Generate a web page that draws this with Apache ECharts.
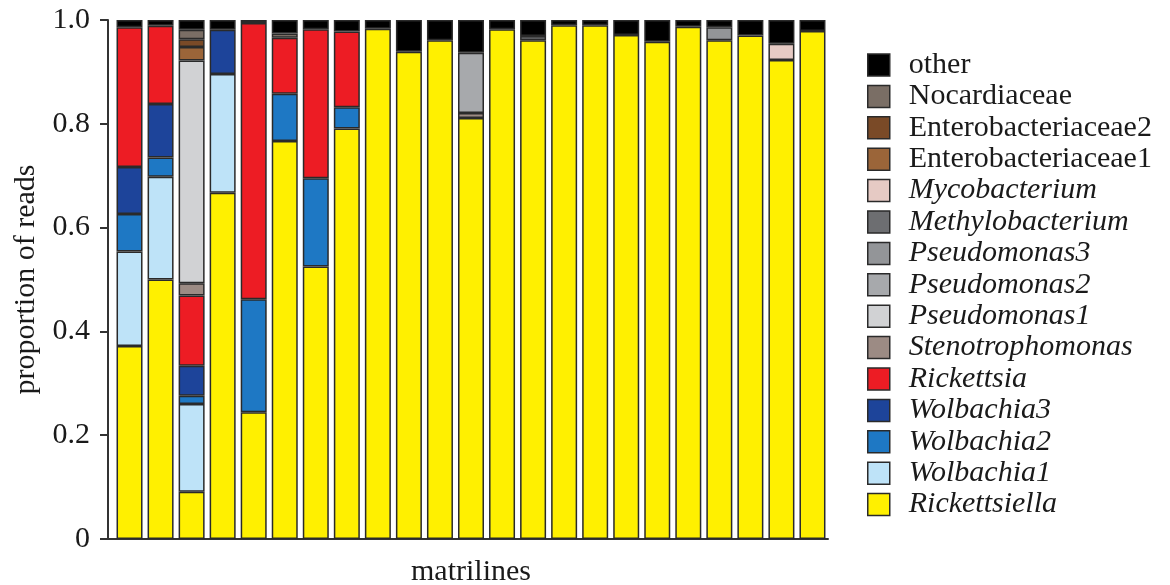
<!DOCTYPE html>
<html>
<head>
<meta charset="utf-8">
<script src="https://cdn.jsdelivr.net/npm/echarts@6/dist/echarts.min.js"></script>
<style>html,body{margin:0;padding:0;background:#fff;}#c{width:1170px;height:585px;}</style>
</head>
<body>
<div id="c"></div>
<script>
// 23 matrilines (bars), values = proportion of reads
const matrilines = ['1','2','3','4','5','6','7','8','9','10','11','12','13','14','15','16','17','18','19','20','21','22','23'];
const yTicks = [0, 0.2, 0.4, 0.6, 0.8, 1.0];

const Rickettsiella      = [0.372,0.500,0.091,0.667,0.244,0.767,0.525,0.791,0.983,0.939,0.961,0.811,0.982,0.961,0.990,0.990,0.971,0.958,0.987,0.961,0.970,0.923,0.979];
const Wolbachia1         = [0.182,0.198,0.169,0.229,'-','-','-','-','-','-','-','-','-','-','-','-','-','-','-','-','-','-','-'];
const Wolbachia2         = [0.072,0.037,0.016,'-',0.218,0.091,0.170,0.041,'-','-','-','-','-','-','-','-','-','-','-','-','-','-','-'];
const Wolbachia3         = [0.091,0.103,0.058,0.085,'-','-','-','-','-','-','-','-','-','-','-','-','-','-','-','-','-','-','-'];
const Rickettsia         = [0.269,0.151,0.135,'-',0.532,0.108,0.287,0.146,'-','-','-','-','-','-','-','-','-','-','-','-','-','-','-'];
const Stenotrophomonas   = ['-','-',0.024,'-','-','-','-','-','-','-','-',0.010,'-','-','-','-','-','-','-','-','-','-','-'];
const Pseudomonas1       = ['-','-',0.429,'-','-','-','-','-','-','-','-','-','-','-','-','-','-','-','-','-','-','-','-'];
const Pseudomonas2       = ['-','-','-','-','-','-','-','-','-','-','-',0.116,'-','-','-','-','-','-','-','-','-','-','-'];
const Pseudomonas3       = ['-','-','-','-','-','-','-','-','-','-','-','-','-','-','-','-','-','-','-',0.025,'-','-','-'];
const Methylobacterium   = ['-','-','-','-','-','-','-','-','-','-','-','-','-',0.008,'-','-','-','-','-','-','-','-','-'];
const Mycobacterium      = ['-','-','-','-','-','-','-','-','-','-','-','-','-','-','-','-','-','-','-','-','-',0.031,'-'];
const Enterobacteriaceae1= ['-','-',0.026,'-','-','-','-','-','-','-','-','-','-','-','-','-','-','-','-','-','-','-','-'];
const Enterobacteriaceae2= ['-','-',0.015,'-','-','-','-','-','-','-','-','-','-','-','-','-','-','-','-','-','-','-','-'];
const Nocardiaceae       = ['-','-',0.018,'-','-',0.008,'-','-','-','-','-','-','-','-','-','-','-','-','-','-','-','-','-'];
const other              = [0.014,0.011,0.019,0.019,0.006,0.026,0.018,0.022,0.017,0.061,0.039,0.063,0.018,0.031,0.010,0.010,0.029,0.042,0.013,0.014,0.030,0.046,0.021];

// stacking order bottom -> top
const seriesDefs = [
  ['Rickettsiella', Rickettsiella, '#FFF000', true],
  ['Wolbachia1', Wolbachia1, '#BEE3F8', true],
  ['Wolbachia2', Wolbachia2, '#1E78C4', true],
  ['Wolbachia3', Wolbachia3, '#1D449A', true],
  ['Rickettsia', Rickettsia, '#ED1C24', true],
  ['Stenotrophomonas', Stenotrophomonas, '#9C8B84', true],
  ['Pseudomonas1', Pseudomonas1, '#D1D2D4', true],
  ['Pseudomonas2', Pseudomonas2, '#A7A9AC', true],
  ['Pseudomonas3', Pseudomonas3, '#939598', true],
  ['Methylobacterium', Methylobacterium, '#6D6E71', true],
  ['Mycobacterium', Mycobacterium, '#E6CAC4', true],
  ['Enterobacteriaceae1', Enterobacteriaceae1, '#9B6539', false],
  ['Enterobacteriaceae2', Enterobacteriaceae2, '#7A4A27', false],
  ['Nocardiaceae', Nocardiaceae, '#7A6E65', false],
  ['other', other, '#000000', false]
];

const italic = {};
seriesDefs.forEach(d => { italic[d[0]] = d[3]; });
const FONT = 'Liberation Serif';
const FS = 30;
const TXT = '#1a1a1a';

const series = seriesDefs.map(d => ({
  name: d[0],
  type: 'bar',
  stack: 'reads',
  xAxisIndex: 1,
  yAxisIndex: 1,
  barWidth: 26,
  data: d[1],
  itemStyle: { color: d[2], borderColor: '#2a2a2a', borderWidth: 1.5 },
  emphasis: { disabled: true },
  animation: false
}));

const chart = echarts.init(document.getElementById('c'), null, { renderer: 'canvas' });
chart.setOption({
  animation: false,
  backgroundColor: '#ffffff',
  grid: [
    { left: 108, right: 342, top: 20, bottom: 46, containLabel: false, outerBoundsMode: 'none' },
    { left: 114, right: 342, top: 20, bottom: 46, containLabel: false, outerBoundsMode: 'none' }
  ],
  xAxis: [
    {
      gridIndex: 0,
      type: 'value',
      min: 0, max: 1,
      axisLine: { show: true, onZero: false, lineStyle: { color: '#333', width: 2 } },
      axisTick: { show: false },
      axisLabel: { show: false },
      splitLine: { show: false }
    },
    {
      gridIndex: 1,
      type: 'category',
      data: matrilines,
      boundaryGap: true,
      name: 'matrilines',
      nameLocation: 'middle',
      nameGap: 18,
      nameTextStyle: { fontFamily: FONT, fontSize: FS, color: TXT, verticalAlign: 'top' },
      axisLine: { show: false },
      axisTick: { show: false },
      axisLabel: { show: false },
      splitLine: { show: false }
    }
  ],
  yAxis: [
    {
      gridIndex: 0,
      type: 'value',
      min: yTicks[0],
      max: yTicks[yTicks.length - 1],
      interval: 0.2,
      name: 'proportion of reads',
      nameLocation: 'middle',
      nameGap: 64,
      nameTextStyle: { fontFamily: FONT, fontSize: FS, color: TXT },
      axisLine: { show: true, onZero: false, lineStyle: { color: '#333', width: 2 } },
      axisTick: { show: true, inside: false, length: 8, lineStyle: { color: '#333', width: 2 } },
      axisLabel: {
        margin: 18,
        fontFamily: FONT, fontSize: FS, color: TXT,
        formatter: v => (Math.abs(v) < 1e-9 ? '0' : v.toFixed(1))
      },
      splitLine: { show: false }
    },
    {
      gridIndex: 1,
      type: 'value',
      min: yTicks[0],
      max: yTicks[yTicks.length - 1],
      show: false
    }
  ],
  legend: {
    orient: 'vertical',
    left: 867,
    top: 50,
    padding: 0,
    itemWidth: 22,
    itemHeight: 22,
    itemGap: 1.4,
    icon: 'rect',
    selectedMode: false,
    data: seriesDefs.map(d => d[0]).reverse(),
    itemStyle: { borderColor: '#2a2a2a', borderWidth: 1.5 },
    formatter: name => (italic[name] ? '{i|' + name + '}' : '{n|' + name + '}'),
    textStyle: {
      fontFamily: FONT, fontSize: FS, color: TXT,
      padding: [0, 0, 0, 14],
      rich: {
        i: { fontFamily: FONT, fontSize: FS, fontStyle: 'italic', color: TXT },
        n: { fontFamily: FONT, fontSize: FS, color: TXT }
      }
    }
  },
  series: series
});
</script>
</body>
</html>
